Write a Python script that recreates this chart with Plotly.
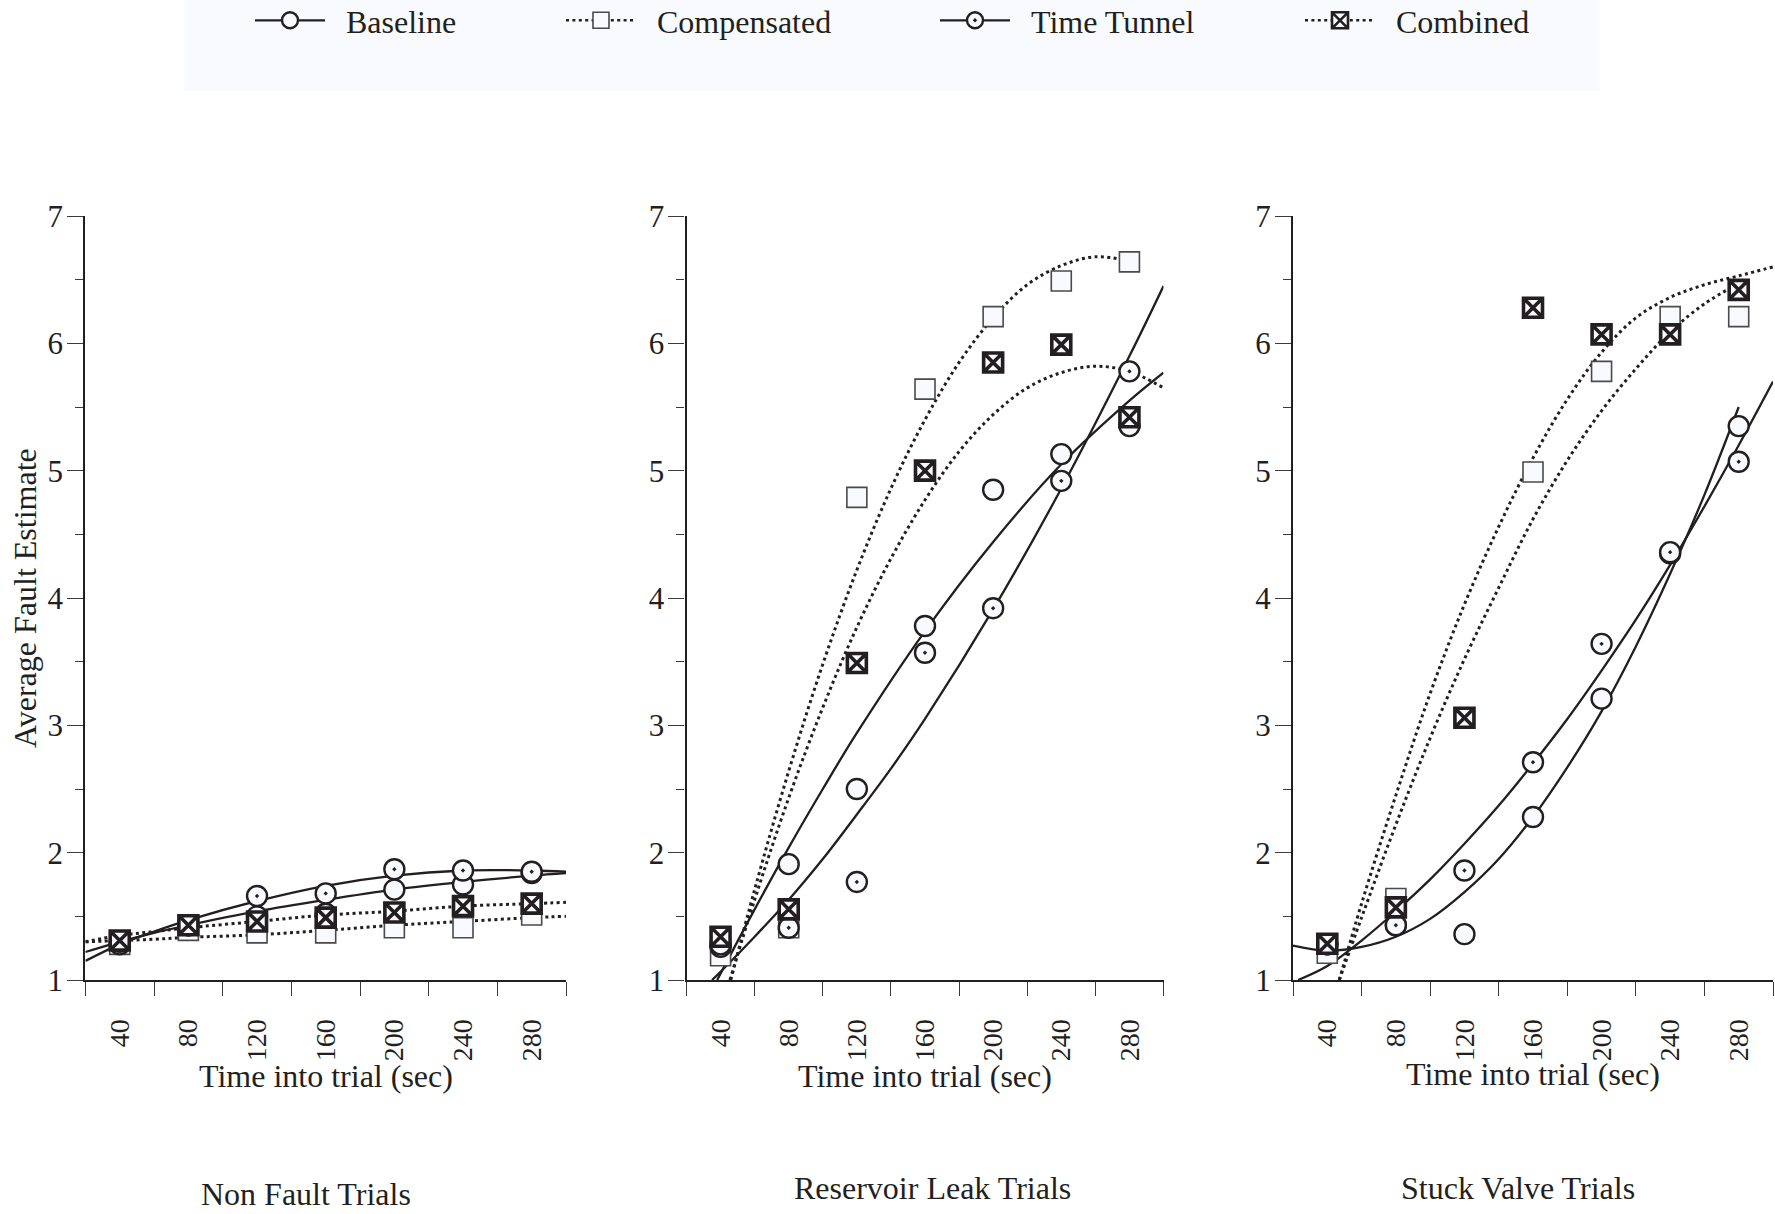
import plotly.graph_objects as go

# ---------------- data ----------------
x_times = [40, 80, 120, 160, 200, 240, 280]
x_tick_text = ["40", "80", "120", "160", "200", "240", "280"]
y_tick_vals = [1, 2, 3, 4, 5, 6, 7]
x_range = [20, 300]
y_range = [1, 7]

series_names = ["Baseline", "Compensated", "Time Tunnel", "Combined"]
panel_titles = ["Non Fault Trials", "Reservoir Leak Trials", "Stuck Valve Trials"]
x_title = "Time into trial (sec)"
y_title = "Average Fault Estimate"

# Non Fault Trials
nf_baseline = [1.28, 1.43, 1.50, 1.52, 1.71, 1.75, 1.84]
nf_compensated = [1.28, 1.39, 1.37, 1.37, 1.41, 1.41, 1.51]
nf_time_tunnel = [1.30, 1.43, 1.66, 1.68, 1.87, 1.86, 1.85]
nf_combined = [1.31, 1.43, 1.46, 1.49, 1.53, 1.58, 1.60]

# Reservoir Leak Trials
rl_baseline = [1.26, 1.91, 2.50, 3.78, 4.85, 5.13, 5.35]
rl_compensated = [1.19, 1.41, 4.79, 5.64, 6.21, 6.49, 6.64]
rl_time_tunnel = [1.28, 1.41, 1.77, 3.57, 3.92, 4.92, 5.78]
rl_combined = [1.34, 1.555, 3.49, 5.00, 5.85, 5.99, 5.42]

# Stuck Valve Trials
sv_baseline = [1.28, 1.43, 1.36, 2.28, 3.21, 4.35, 5.35]
sv_compensated = [1.21, 1.64, 3.06, 4.99, 5.78, 6.21, 6.21]
sv_time_tunnel = [1.28, 1.43, 1.86, 2.71, 3.64, 4.36, 5.07]
sv_combined = [1.285, 1.57, 3.06, 6.28, 6.07, 6.07, 6.42]

# fitted trend curves
nf_baseline_fit_x = [20, 40, 60, 80, 120, 160, 200, 240, 280, 300]
nf_baseline_fit_y = [1.22, 1.30, 1.37, 1.43, 1.54, 1.63, 1.71, 1.77, 1.82, 1.84]
nf_time_tunnel_fit_x = [20, 40, 60, 80, 120, 160, 200, 240, 280, 300]
nf_time_tunnel_fit_y = [1.15, 1.28, 1.38, 1.47, 1.62, 1.74, 1.82, 1.86, 1.86, 1.85]
nf_compensated_fit_x = [20, 40, 60, 80, 120, 160, 200, 240, 280, 300]
nf_compensated_fit_y = [1.30, 1.31, 1.32, 1.335, 1.355, 1.39, 1.43, 1.46, 1.49, 1.50]
nf_combined_fit_x = [20, 40, 60, 80, 120, 160, 200, 240, 280, 300]
nf_combined_fit_y = [1.30, 1.35, 1.38, 1.41, 1.46, 1.51, 1.54, 1.58, 1.60, 1.61]

rl_baseline_fit_x = [38, 60, 80, 100, 120, 160, 200, 240, 280, 300]
rl_baseline_fit_y = [1.0, 1.555, 2.04, 2.50, 2.94, 3.74, 4.44, 5.05, 5.55, 5.77]
rl_time_tunnel_fit_x = [35, 40, 60, 80, 100, 120, 140, 160, 200, 240, 280, 300]
rl_time_tunnel_fit_y = [1.0, 1.065, 1.34, 1.63, 1.95, 2.30, 2.66, 3.05, 3.91, 4.86, 5.90, 6.45]
rl_compensated_fit_x = [46, 60, 80, 100, 120, 140, 160, 180, 200, 220, 240, 260, 280]
rl_compensated_fit_y = [1.0, 1.71, 2.64, 3.48, 4.22, 4.86, 5.40, 5.85, 6.20, 6.46, 6.61, 6.68, 6.645]
rl_combined_fit_x = [45.5, 60, 80, 100, 120, 140, 160, 180, 200, 220, 240, 260, 280, 300]
rl_combined_fit_y = [1.0, 1.63, 2.43, 3.14, 3.77, 4.31, 4.77, 5.15, 5.44, 5.65, 5.77, 5.82, 5.78, 5.65]

sv_baseline_fit_x = [20, 40, 60, 80, 100, 120, 140, 160, 180, 200, 220, 240, 260, 280]
sv_baseline_fit_y = [1.27, 1.23, 1.26, 1.34, 1.48, 1.69, 1.95, 2.28, 2.67, 3.11, 3.62, 4.19, 4.81, 5.50]
sv_time_tunnel_fit_x = [23, 40, 60, 80, 100, 120, 140, 160, 180, 200, 220, 240, 260, 280, 300]
sv_time_tunnel_fit_y = [1.0, 1.11, 1.31, 1.54, 1.79, 2.07, 2.37, 2.70, 3.05, 3.43, 3.83, 4.26, 4.72, 5.20, 5.70]
sv_compensated_fit_x = [47, 60, 80, 100, 120, 140, 160, 180, 200, 220, 240, 260, 280]
sv_compensated_fit_y = [1.0, 1.49, 2.22, 2.90, 3.52, 4.08, 4.62, 5.08, 5.47, 5.80, 6.09, 6.31, 6.47]
sv_combined_fit_x = [47, 60, 80, 100, 120, 140, 160, 180, 200, 220, 240, 260, 280, 300]
sv_combined_fit_y = [1.0, 1.60, 2.45, 3.25, 3.95, 4.56, 5.10, 5.56, 5.93, 6.20, 6.36, 6.46, 6.53, 6.60]

panels = [
    {
        "Baseline": (nf_baseline, nf_baseline_fit_x, nf_baseline_fit_y),
        "Compensated": (nf_compensated, nf_compensated_fit_x, nf_compensated_fit_y),
        "Time Tunnel": (nf_time_tunnel, nf_time_tunnel_fit_x, nf_time_tunnel_fit_y),
        "Combined": (nf_combined, nf_combined_fit_x, nf_combined_fit_y),
    },
    {
        "Baseline": (rl_baseline, rl_baseline_fit_x, rl_baseline_fit_y),
        "Compensated": (rl_compensated, rl_compensated_fit_x, rl_compensated_fit_y),
        "Time Tunnel": (rl_time_tunnel, rl_time_tunnel_fit_x, rl_time_tunnel_fit_y),
        "Combined": (rl_combined, rl_combined_fit_x, rl_combined_fit_y),
    },
    {
        "Baseline": (sv_baseline, sv_baseline_fit_x, sv_baseline_fit_y),
        "Compensated": (sv_compensated, sv_compensated_fit_x, sv_compensated_fit_y),
        "Time Tunnel": (sv_time_tunnel, sv_time_tunnel_fit_x, sv_time_tunnel_fit_y),
        "Combined": (sv_combined, sv_combined_fit_x, sv_combined_fit_y),
    },
]

# ---------------- style ----------------
W, H = 1775, 1214
INK = "#231f20"
SQ = "#4a4a4a"
FILL = "#f8fafd"
FONT = "Liberation Serif, Times New Roman, serif"
DOT = "3px,3.4px"
TXT = 32

styles = {
    "Baseline": dict(symbol="circle", size=20, dash="solid", mlw=2.4, mcol=INK),
    "Compensated": dict(symbol="square", size=20, dash=DOT, mlw=1.6, mcol=SQ),
    "Time Tunnel": dict(symbol="circle-dot", size=20, dash="solid", mlw=2.4, mcol=INK),
    "Combined": dict(symbol="square-x", size=19, dash=DOT, mlw=3.6, mcol=INK),
}
marker_order = ["Compensated", "Baseline", "Time Tunnel", "Combined"]

x_domains = [(85.4 / W, 566 / W), (686.5 / W, 1163.5 / W), (1293 / W, 1773 / W)]
y_domain = (1 - 980 / H, 1 - 216 / H)

fig = go.Figure()

for i, pdata in enumerate(panels):
    xa = "x" if i == 0 else f"x{i+1}"
    ya = "y" if i == 0 else f"y{i+1}"
    # trend curves
    for name in series_names:
        vals, fx, fy = pdata[name]
        st = styles[name]
        fig.add_trace(go.Scatter(
            x=fx, y=fy, mode="lines", xaxis=xa, yaxis=ya, showlegend=False,
            line=dict(color=INK, width=2.3 if st["dash"] == "solid" else 3,
                      dash=st["dash"], shape="spline", smoothing=1.0),
            hoverinfo="skip"))
    # markers
    for name in marker_order:
        vals, fx, fy = pdata[name]
        st = styles[name]
        fig.add_trace(go.Scatter(
            x=x_times, y=vals, mode="markers", xaxis=xa, yaxis=ya, showlegend=False,
            cliponaxis=False, name=name,
            marker=dict(symbol=st["symbol"], size=st["size"], color=FILL,
                        line=dict(color=st["mcol"], width=st["mlw"]))))

# legend-only traces (one legend each for exact placement)
legend_x = [250, 561, 935, 1300]
for k, name in enumerate(series_names):
    st = styles[name]
    lg = "legend" if k == 0 else f"legend{k+1}"
    fig.add_trace(go.Scatter(
        x=[None], y=[None], mode="lines+markers", name="\u00a0\u00a0" + name, legend=lg,
        showlegend=True,
        line=dict(color=INK, width=2.3 if st["dash"] == "solid" else 2.5, dash=st["dash"]),
        marker=dict(symbol=st["symbol"], size=16, color=FILL,
                    line=dict(color=st["mcol"], width=min(st["mlw"], 2.6)))))

layout_legends = {}
for k in range(4):
    key = "legend" if k == 0 else f"legend{k+1}"
    layout_legends[key] = dict(
        x=legend_x[k] / W, xanchor="left", y=1 + 7 / H, yanchor="top",
        orientation="h", bgcolor="rgba(0,0,0,0)", borderwidth=0,
        font=dict(family=FONT, size=TXT, color=INK), itemwidth=70,
        itemclick=False, itemdoubleclick=False)

boundaries = [t - 20 for t in x_times] + [x_times[-1] + 20]

axis_common_x = dict(
    range=x_range, tickmode="array", tickvals=x_times, ticktext=x_tick_text,
    tickangle=-90, ticks="", showline=True, linecolor=INK, linewidth=2.3,
    showgrid=False, zeroline=False, ticklabelstandoff=26,
    tickfont=dict(family=FONT, size=28, color=INK),
    minor=dict(tickmode="array", tickvals=boundaries, ticks="outside", ticklen=14,
               tickwidth=1.4, tickcolor="#3a3a3a", showgrid=False),
)
axis_common_y = dict(
    range=y_range, tickmode="array", tickvals=y_tick_vals, ticks="outside",
    ticklen=16, tickwidth=1.4, tickcolor="#3a3a3a", showline=True, linecolor=INK,
    linewidth=2.3, showgrid=False, zeroline=False, ticklabelstandoff=-2,
    tickfont=dict(family=FONT, size=31, color=INK),
    minor=dict(dtick=0.5, tick0=1, ticks="outside", ticklen=8, tickwidth=1.4,
               tickcolor="#3a3a3a", showgrid=False),
)

layout_axes = {}
for i in range(3):
    xk = "xaxis" if i == 0 else f"xaxis{i+1}"
    yk = "yaxis" if i == 0 else f"yaxis{i+1}"
    layout_axes[xk] = dict(axis_common_x, domain=list(x_domains[i]),
                           anchor="y" if i == 0 else f"y{i+1}")
    layout_axes[yk] = dict(axis_common_y, domain=list(y_domain),
                           anchor="x" if i == 0 else f"x{i+1}")

annotations = []
title_pos = [(305.6, 1214), (932, 1208), (1518, 1208)]
xtitle_y = [1076, 1076, 1074]
for i in range(3):
    cx = (x_domains[i][0] + x_domains[i][1]) / 2
    annotations.append(dict(text=x_title, x=cx, y=1 - xtitle_y[i] / H, xref="paper", yref="paper",
                            xanchor="center", yanchor="middle", showarrow=False,
                            font=dict(family=FONT, size=TXT, color=INK)))
    annotations.append(dict(text=panel_titles[i], x=title_pos[i][0] / W, y=1 - title_pos[i][1] / H,
                            xref="paper", yref="paper", xanchor="center", yanchor="bottom",
                            showarrow=False, font=dict(family=FONT, size=TXT, color=INK)))
annotations.append(dict(text=y_title, x=25 / W, y=1 - 598 / H, xref="paper", yref="paper",
                        xanchor="center", yanchor="middle", textangle=-90, showarrow=False,
                        font=dict(family=FONT, size=TXT, color=INK)))

fig.update_layout(
    width=W, height=H, autosize=False,
    margin=dict(l=0, r=0, t=0, b=0, pad=0, autoexpand=False),
    paper_bgcolor="white", plot_bgcolor="white",
    annotations=annotations,
    shapes=[dict(type="rect", xref="paper", yref="paper", x0=184.5 / W, x1=1599.5 / W,
                 y0=1 - 91 / H, y1=1, fillcolor=FILL, line=dict(width=0), layer="below")],
    **layout_legends, **layout_axes,
)

fig.write_html("out.html", config={"displayModeBar": False},
               post_script="document.body.style.margin='0';document.body.style.overflow='hidden';")
